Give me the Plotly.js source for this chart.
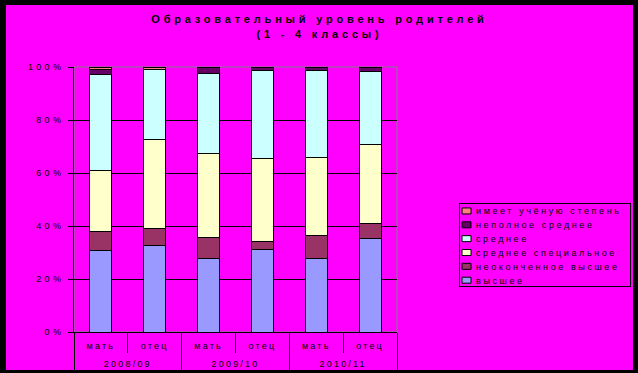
<!DOCTYPE html>
<html>
<head>
<meta charset="utf-8">
<script src="https://cdn.plot.ly/plotly-3.0.1.min.js"></script>
<style>
html, body { margin:0; padding:0; background:#000; width:638px; height:373px; overflow:hidden; }
#chart { position:absolute; left:6px; top:5px; width:627px; height:365px; }
text { letter-spacing: 2.2px; }
#chart .gtitle { letter-spacing: 3.8px; }
#chart .legendtext { letter-spacing: 2.6px; }
#chart .ytick text { letter-spacing: 3.3px; }
#chart g.xtick { transform: translateY(5px); }
#chart g.xtick2 { transform: translateY(11px); }
</style>
</head>
<body>
<div id="chart"></div>
<script>
const years = ["2008/09","2008/09","2009/10","2009/10","2010/11","2010/11"];
const parents = ["мать","отец","мать","отец","мать","отец"];
const seriesNames = ["высшее","неоконченное высшее","среднее специальное","среднее","неполное среднее","имеет учёную степень"];
const vysshee       = [30.9, 32.8, 27.9, 31.3, 27.9, 35.1];
const neokonchennoe = [7.2, 6.2, 7.9, 3.0, 8.7, 6.0];
const srSpec        = [23.0, 33.5, 31.7, 31.3, 29.4, 29.8];
const srednee       = [36.1, 26.4, 30.2, 33.2, 32.8, 27.5];
const nepolnoe      = [2.0, 0.0, 2.3, 1.1, 1.1, 1.5];
const uchenaya      = [0.8, 1.1, 0.0, 0.0, 0.0, 0.0];
const yTicks = [0, 20, 40, 60, 80, 100];
const yTickText = ["0%","20%","40%","60%","80%","100%"];
const colors = ["#9999FF","#993366","#FFFFCC","#CCFFFF","#660066","#FF8080"];

const allSeries = [vysshee, neokonchennoe, srSpec, srednee, nepolnoe, uchenaya];
const traces = allSeries.map((vals, i) => ({
  type: "bar",
  name: seriesNames[i],
  x: [years, parents],
  y: vals,
  marker: { color: colors[i], line: { color: "#000", width: 1 } },
  hoverinfo: "name+y"
}));

const layout = {
  width: 627, height: 365,
  paper_bgcolor: "#FF00FF",
  plot_bgcolor: "#FF00FF",
  barmode: "stack",
  bargap: 0.59,
  margin: { l: 68, r: 236, t: 62, b: 38, autoexpand: false },
  font: { family: "Liberation Sans, Arial, sans-serif", size: 9, color: "#000" },
  title: {
    text: "Образовательный уровень родителей<br>(1 - 4 классы)",
    font: { family: "Liberation Sans, Arial, sans-serif", size: 11, color: "#000", weight: "bold" },
    x: 0.5, xanchor: "center", y: 0.95, yanchor: "top"
  },
  xaxis: {
    type: "multicategory",
    showline: true, linecolor: "#000", linewidth: 1,
    ticks: "outside", ticklen: 20, tickcolor: "#000", tickwidth: 1,
    showdividers: true, dividercolor: "#000", dividerwidth: 1,
    showgrid: false,
    tickfont: { size: 9, color: "#000" }
  },
  yaxis: {
    range: [0, 100],
    tickvals: yTicks, ticktext: yTickText,
    showline: true, linecolor: "#000", linewidth: 1,
    ticks: "outside", ticklen: 5, tickcolor: "#000",
    ticklabelstandoff: 2,
    showgrid: true, gridcolor: "#000", gridwidth: 1,
    zeroline: false,
    tickfont: { size: 9, color: "#000" }
  },
  shapes: [{
    type: "rect", xref: "paper", yref: "paper", x0: 0, x1: 1, y0: 0, y1: 1,
    line: { color: "#808080", width: 1 }, fillcolor: "rgba(0,0,0,0)", layer: "between"
  }],
  legend: {
    x: 1.192, xanchor: "left", y: 0.487, yanchor: "top",
    traceorder: "reversed",
    bgcolor: "#FF00FF", bordercolor: "#000", borderwidth: 1,
    font: { size: 9, color: "#000" },
    itemwidth: 30, tracegroupgap: 0
  },
  showlegend: true
};

Plotly.newPlot("chart", traces, layout, { displayModeBar: false, staticPlot: true }).then(gd => {
  // compact legend styling
  const leg = gd.querySelector(".legend");
  if (leg) {
    const items = Array.from(leg.querySelectorAll(".traces"));
    const parsed = items.map(el => {
      const m = /translate\(\s*([-\d.]+)[ ,]+([-\d.]+)\s*\)/.exec(el.getAttribute("transform") || "");
      return { el, x: m ? +m[1] : 0, y: m ? +m[2] : 0 };
    }).sort((a, b) => a.y - b.y);
    parsed.forEach((p, k) => {
      p.el.setAttribute("transform", "translate(" + p.x + "," + (8 + 13.85 * k) + ")");
      p.el.querySelectorAll(".legendpoints path").forEach(pt => {
        pt.setAttribute("d", "M4.5,3H-4.5V-3H4.5Z");
        pt.setAttribute("transform", "translate(6.5,0)");
      });
      const t = p.el.querySelector(".legendtext");
      if (t) t.setAttribute("x", 16);
    });
    const bg = leg.querySelector("rect.bg");
    if (bg) { bg.setAttribute("width", 171); bg.setAttribute("height", 83); }
    leg.querySelectorAll("clipPath rect, rect.scrollbox-bg").forEach(r => { r.setAttribute("width", 171); r.setAttribute("height", 83); });
    const sb = leg.querySelector(".scrollbox");
    if (sb) sb.removeAttribute("clip-path");
  }
  // extend group dividers to the bottom edge
  gd.querySelectorAll("path.xdivider").forEach(p => {
    const d = p.getAttribute("d") || "";
    p.setAttribute("d", d.replace(/v[-\d.]+/, "v60"));
  });
});
</script>
</body>
</html>
